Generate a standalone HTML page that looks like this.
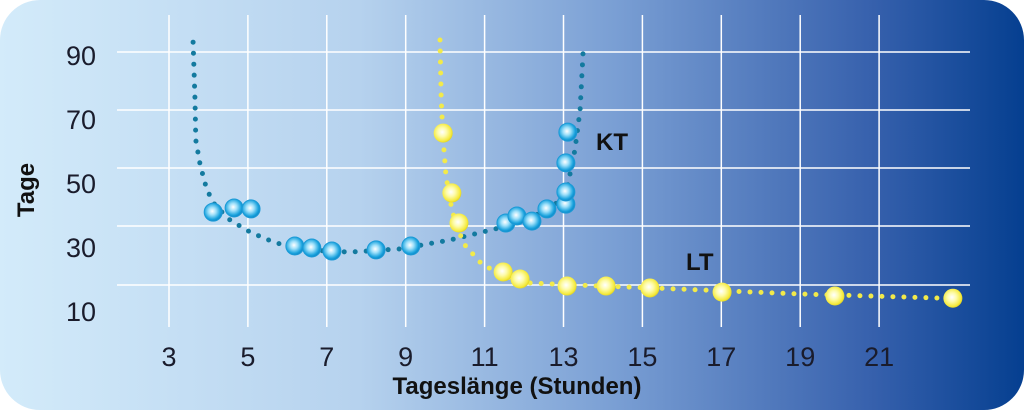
<!DOCTYPE html>
<html><head><meta charset="utf-8"><style>
html,body{margin:0;padding:0;background:#fff;width:1024px;height:410px;overflow:hidden}
svg{display:block;font-family:"Liberation Sans",sans-serif}
</style></head><body>
<svg id="chart" width="1024" height="410" viewBox="0 0 1024 410">
<defs>
<linearGradient id="bg" x1="0" x2="1" y1="0" y2="0">
<stop offset="0" stop-color="#d3ebfa"/><stop offset="0.35" stop-color="#b6d2ee"/>
<stop offset="0.6" stop-color="#7a9fd4"/><stop offset="0.85" stop-color="#3761ad"/><stop offset="1" stop-color="#053f90"/>
</linearGradient>
<radialGradient id="gKT" cx="0.45" cy="0.45" r="0.6">
<stop offset="0" stop-color="#ffffff"/><stop offset="0.35" stop-color="#9fe0fa"/><stop offset="0.75" stop-color="#1aa3de"/><stop offset="1" stop-color="#0b78b8"/>
</radialGradient>
<radialGradient id="gLT" cx="0.45" cy="0.45" r="0.6">
<stop offset="0" stop-color="#ffffff"/><stop offset="0.4" stop-color="#fdfba8"/><stop offset="0.8" stop-color="#f5ea3c"/><stop offset="1" stop-color="#d8c81a"/>
</radialGradient>
</defs>
<rect x="0" y="0" width="1024" height="410" rx="40" fill="url(#bg)"/>
<g id="grid"></g>
<g id="curves"></g>
<g id="marks"></g>
<g id="labels" fill="#1a1c2c"></g>
<text transform="translate(34,190) rotate(-90)" text-anchor="middle" font-size="24" font-weight="bold" fill="#111">Tage</text>
<text x="517" y="394" text-anchor="middle" font-size="24" font-weight="bold" fill="#111">Tageslänge (Stunden)</text>
<text x="596" y="150" font-size="24" font-weight="bold" fill="#111">KT</text>
<text x="686" y="270" font-size="24" font-weight="bold" fill="#111">LT</text>
</svg>
<script>
const xTicks=[3,5,7,9,11,13,15,17,19,21];
const yTicks=[90,70,50,30,10];
const ktCurveH=[3.61,3.66,3.68,3.79,3.96,4.17,4.55,5.05,5.69,6.57,7.59,8.86,10.12,11.39,12.15,12.78,13.11,13.29,13.42,13.5];
const ktCurveV=[94,76,63.4,55.6,47.8,43,38.4,34.7,31.3,29,28.4,29.4,32.2,36,39,43,49.4,60.3,72.8,91.6];
const ltCurveH=[9.87,9.9,9.95,10.02,10.12,10.27,10.5,10.88,11.39,12.15,13.93,16.46,19,21.53,23.3];
const ltCurveV=[94.7,76,63.4,52.5,44.7,36.9,30.6,25.3,21.25,18.75,17.8,16.6,15.3,14.4,13.75];
const ktH=[4.12,4.65,5.08,6.19,6.62,7.13,8.25,9.13,11.54,11.82,12.2,12.58,13.06,13.06,13.06,13.11];
const ktV=[40.9,42.2,41.9,30.3,29.7,28.75,29.1,30.3,37.5,39.7,38.1,41.9,43.4,47.2,56.3,65.9];
const ltH=[9.95,10.17,10.35,11.47,11.9,13.09,14.08,15.19,17.02,19.88,22.87];
const ltV=[65.6,46.9,37.5,22.2,20,17.8,17.8,17.2,15.9,14.7,14];
const X=h=>169+(h-3)*39.45;
const Y=v=>55+(90-v)*3.2;
const NS="http://www.w3.org/2000/svg";
function mk(tag,attrs,parent){const e=document.createElementNS(NS,tag);for(const k in attrs)e.setAttribute(k,attrs[k]);parent.appendChild(e);return e;}
const grid=document.getElementById('grid'),labels=document.getElementById('labels');
xTicks.forEach(t=>{
 const l=mk('line',{x1:X(t),x2:X(t),y1:15,y2:327,stroke:'#fff','stroke-width':1.5},grid);
 
 
 const tx=mk('text',{x:X(t),y:366,'text-anchor':'middle','font-size':27},labels);tx.textContent=t;
 
 
});
[52,110,168,226,285].forEach(y=>{
 const l=mk('line',{x1:117,x2:970,y1:y,y2:y,stroke:'#fff','stroke-width':1.5},grid);
 
 
});
yTicks.forEach(t=>{
 const tx=mk('text',{x:96,y:Y(t)+10,'text-anchor':'end','font-size':27},labels);tx.textContent=t;
 
 
});
function curve(H,V,color,name){
 let d='';H.forEach((h,i)=>{d+=(i?' L':'M')+X(h).toFixed(1)+' '+Y(V[i]).toFixed(1);});
 const p=mk('path',{d:d,fill:'none',stroke:color,'stroke-width':5,'stroke-linecap':'round','stroke-linejoin':'round','stroke-dasharray':'0 11'},document.getElementById('curves'));
 
 
}
curve(ktCurveH,ktCurveV,'#137a9f','kt-dotted-curve');
curve(ltCurveH,ltCurveV,'#f2ea4a','lt-dotted-curve');
const marks=document.getElementById('marks');
ktH.forEach((h,i)=>{
 const c=mk('circle',{cx:X(h),cy:Y(ktV[i]),r:9,fill:'url(#gKT)',stroke:'#1c9ad6','stroke-width':1},marks);
 
 
});
ltH.forEach((h,i)=>{
 const c=mk('circle',{cx:X(h),cy:Y(ltV[i]),r:9.5,fill:'url(#gLT)'},marks);
 
 
});
</script>
</body></html>
